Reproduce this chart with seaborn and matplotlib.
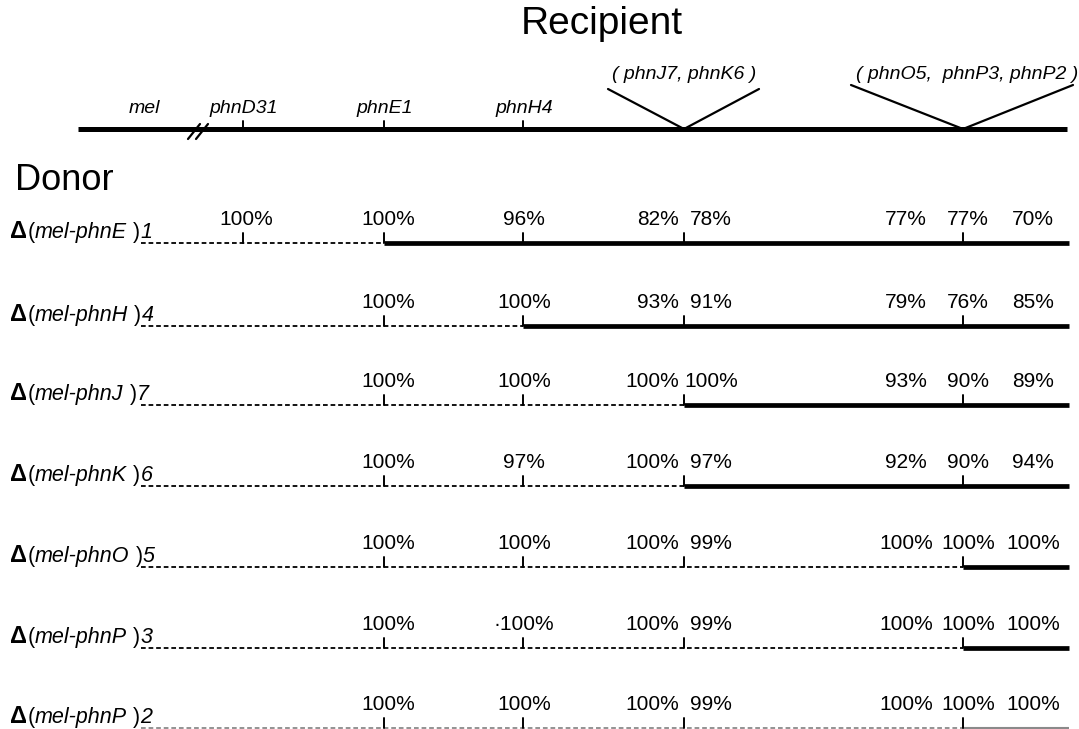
import matplotlib
matplotlib.use("Agg")
import matplotlib.pyplot as plt
import seaborn as sns
import pandas as pd

# ---------------- data ----------------
recipient_loci = ["phnD31", "phnE1", "phnH4"]
group_labels = ["( phnJ7, phnK6 )", "( phnO5,  phnP3, phnP2 )"]
loci_pos = [243, 384, 523, 684, 963]          # map positions: D31, E1, H4, J7/K6, O5/P3/P2
map_left, map_right = 78, 1067

donor_genes = ["phnE", "phnH", "phnJ", "phnK", "phnO", "phnP", "phnP"]
donor_alleles = ["1", "4", "7", "6", "5", "3", "2"]
donor_break = [1, 2, 3, 3, 4, 4, 4]           # locus index where the solid (donor) segment starts

pct_cols = ["phnD31", "phnE1", "phnH4", "phnJ7", "phnK6", "phnO5", "phnP3", "phnP2"]
pct_1 = ["100", "100", "96", "82", "78", "77", "77", "70"]
pct_2 = [None, "100", "100", "93", "91", "79", "76", "85"]
pct_3 = [None, "100", "100", "100", "100", "93", "90", "89"]
pct_4 = [None, "100", "97", "100", "97", "92", "90", "94"]
pct_5 = [None, "100", "100", "100", "99", "100", "100", "100"]
pct_6 = [None, "100", "\u00b7100", "100", "99", "100", "100", "100"]
pct_7 = [None, "100", "100", "100", "99", "100", "100", "100"]
pct_rows = [pct_1, pct_2, pct_3, pct_4, pct_5, pct_6, pct_7]

# ---------------- layout ----------------
W, H = 1079, 729
sns.set_theme(style="white")
plt.rcParams["font.family"] = ["Liberation Sans", "DejaVu Sans"]
plt.rcParams["text.color"] = "black"

fig = plt.figure(figsize=(W / 100, H / 100), dpi=100)
ax = fig.add_axes([0, 0, 1, 1])
ax.set_xlim(0, W)
ax.set_ylim(H, 0)
ax.axis("off")

K = dict(color="black", legend=False, estimator=None, sort=False, ax=ax)


def seg(x0, x1, y0, y1, **kw):
    df = pd.DataFrame({"x": [x0, x1], "y": [y0, y1]})
    sns.lineplot(data=df, x="x", y="y", **K, **kw)


# titles
ax.text(602, 24, "Recipient", fontsize=28, ha="center", va="center", color="black")
ax.text(15, 190, "Donor", fontsize=26, ha="left", va="baseline", color="black")

# recipient map
ry = 129
seg(map_left, map_right, ry, ry, lw=3.6, solid_capstyle="butt")
for dx in (0, 8):
    seg(188 + dx, 200 + dx, 139, 124, lw=1.6)
for p in loci_pos[:3]:
    seg(p, p, ry - 8, ry, lw=1.4)
# V insertions
seg(608, loci_pos[3], 89, ry, lw=1.6)
seg(loci_pos[3], 759, ry, 89, lw=1.6)
seg(851, loci_pos[4], 85, ry, lw=1.6)
seg(loci_pos[4], 1073, ry, 85, lw=1.6)

lab = dict(fontsize=14, style="italic", ha="center", va="center", color="black")
ax.text(144, 108, "mel", **lab)
for name, p in zip(recipient_loci, loci_pos[:3]):
    ax.text(p + 1, 108, name, **lab)
ax.text(684, 74, group_labels[0], **lab)
ax.text(967, 74, group_labels[1], **lab)

# donor rows
row_y = [243, 326, 405, 486, 567, 648, 728]
dash_left = 141
pct_anchor = {"phnD31": (246, "center"), "phnE1": (388, "center"), "phnH4": (524, "center"),
              "phnJ7": (679, "right"), "phnK6": (711, "center"), "phnO5": (906, "center"),
              "phnP3": (968, "center"), "phnP2": (1033, "center")}

renderer = fig.canvas.get_renderer()
for i, (gene, allele, brk, pcts) in enumerate(zip(donor_genes, donor_alleles, donor_break, pct_rows)):
    y = row_y[i]
    col = "black" if i < 6 else "#8a8a8a"
    bx = loci_pos[brk]
    df = pd.DataFrame({"x": [dash_left, bx], "y": [y, y]})
    sns.lineplot(data=df, x="x", y="y", ax=ax, color=col, lw=1.3, linestyle=(0, (2.6, 1.6)),
                 legend=False, estimator=None, sort=False)
    df = pd.DataFrame({"x": [bx, 1069], "y": [y, y]})
    sns.lineplot(data=df, x="x", y="y", ax=ax, color=col, lw=3.4 if i < 6 else 1.5,
                 solid_capstyle="butt", legend=False, estimator=None, sort=False)
    ticks = loci_pos if i == 0 else loci_pos[1:]
    for p in ticks:
        seg(p, p, y - 10, y, lw=1.4)
    # percentages
    for cname, v in zip(pct_cols, pcts):
        if v is None:
            continue
        x, ha = pct_anchor[cname]
        ax.text(x, y - 18, v + "%", fontsize=15, ha=ha, va="baseline", color="black")
    # donor label built from pieces
    xcur = 10
    pieces = [("\u0394", "normal", 17, "bold"), ("(", "normal", 15.5, "normal"),
              (f"mel-{gene}", "italic", 15.5, "normal"),
              (" )", "normal", 15.5, "normal"), (allele, "italic", 15.5, "normal")]
    for txt, st, fs, fw in pieces:
        t = ax.text(xcur, y - 5, txt, fontsize=fs, style=st, fontweight=fw,
                    ha="left", va="baseline", color="black")
        bb = t.get_window_extent(renderer)
        xcur += bb.width + (1 if txt == "\u0394" else 0)

fig.savefig("out.png", dpi=100)
